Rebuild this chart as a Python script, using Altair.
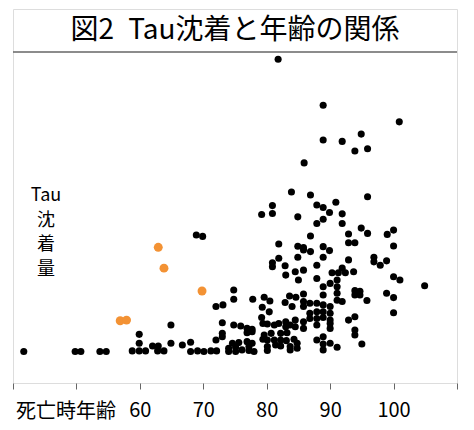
import altair as alt
import pandas as pd

# Black points: age at death (years) and Tau deposition (arbitrary units)
black_age = [41.7, 49.8, 50.7, 53.7, 54.7, 58.8, 59.9, 60.9, 59.9, 59.9,
             62.0, 62.9, 62.8, 63.8, 64.9, 64.9, 66.7, 68.0, 68.0, 69.1,
             70.1, 68.9, 69.9, 71.2, 72.1, 74.0, 75.1, 74.0, 75.1, 76.1,
             77.2, 77.2, 78.0, 80.1, 80.1, 81.4, 82.2, 83.7, 74.6, 75.6,
             76.9, 77.7, 72.0, 73.0, 73.0, 79.4, 80.1, 81.2, 82.2, 83.1,
             84.3, 79.6, 80.7, 82.2, 83.2, 76.9, 77.7, 73.0, 74.8, 75.9,
             76.9, 77.7, 79.2, 79.4, 80.1, 81.2, 81.9, 83.0, 83.0, 83.7,
             84.5, 74.8, 74.8, 72.0, 73.1, 77.8, 79.6, 80.5, 79.3, 80.4,
             83.6, 84.6, 82.9, 84.0, 83.7, 84.8, 83.9, 80.9, 80.9, 79.2,
             84.9, 81.9, 84.9, 85.8, 81.9, 80.9, 84.9, 82.9, 80.9, 83.0,
             81.8, 88.9, 100.9, 94.9, 88.9, 91.9, 93.9, 95.9, 85.9, 86.9,
             95.9, 87.9, 88.9, 90.9, 89.9, 91.9, 88.9, 87.9, 91.9, 94.9,
             100.0, 99.0, 92.9, 95.9, 86.9, 92.9, 93.9, 100.0, 85.8, 86.9,
             88.9, 89.9, 88.9, 92.9, 96.9, 96.9, 97.9, 98.9, 87.9, 91.9,
             104.9, 100.0, 101.0, 98.9, 100.0, 100.0, 95.8, 93.9, 94.7, 93.9,
             94.7, 90.3, 91.3, 92.4, 93.7, 91.1, 91.1, 91.1, 91.1, 90.0,
             88.9, 88.9, 84.5, 85.8, 85.0, 87.9, 85.8, 85.8, 85.8, 86.8,
             87.9, 88.9, 90.0, 91.9, 86.8, 87.9, 88.9, 90.0, 86.8, 87.9,
             88.9, 90.0, 84.5, 85.8, 85.8, 87.9, 90.0, 90.0, 92.9, 93.9,
             93.9, 93.9, 84.8, 87.9, 88.9, 88.9, 90.0, 91.1, 88.9, 95.0]
black_tau = [9.5, 9.5, 9.5, 9.5, 9.5, 9.7, 9.7, 9.7, 12.0, 14.7,
             11.2, 11.2, 9.7, 9.7, 12.0, 17.5, 11.5, 12.3, 9.5, 9.7,
             9.5, 44.7, 44.3, 9.7, 9.7, 10.5, 10.8, 9.5, 9.5, 10.0,
             11.0, 9.8, 9.5, 11.0, 9.8, 11.5, 11.2, 10.0, 12.0, 12.2,
             12.5, 12.0, 13.0, 15.0, 14.0, 13.2, 13.0, 13.0, 13.0, 12.8,
             13.2, 14.5, 15.0, 15.0, 15.2, 15.2, 15.5, 18.2, 17.5, 17.2,
             16.5, 16.2, 19.8, 18.0, 17.8, 17.5, 18.0, 18.5, 17.0, 17.5,
             17.0, 28.1, 25.3, 23.1, 23.6, 25.3, 25.9, 24.8, 22.9, 21.5,
             26.3, 25.9, 24.3, 23.1, 11.0, 12.0, 57.7, 53.6, 51.2, 50.9,
             50.2, 42.0, 41.3, 40.9, 37.7, 36.3, 38.0, 35.4, 35.1, 32.6,
             97.8, 83.9, 78.9, 75.2, 73.4, 73.0, 70.1, 70.8, 66.5, 56.8,
             56.3, 53.8, 53.0, 54.6, 51.5, 51.1, 49.5, 48.2, 48.2, 46.8,
             46.2, 44.9, 45.0, 45.2, 44.4, 42.4, 42.4, 41.4, 40.2, 39.7,
             41.2, 40.0, 38.0, 37.2, 38.0, 36.6, 35.6, 36.9, 35.6, 34.7,
             29.4, 32.1, 31.1, 27.1, 25.8, 21.2, 24.9, 27.9, 27.7, 26.6,
             26.6, 33.3, 33.3, 33.3, 33.6, 31.1, 29.1, 27.1, 25.0, 30.1,
             29.1, 26.6, 33.6, 34.1, 31.1, 31.6, 26.9, 24.6, 23.1, 24.1,
             24.1, 23.6, 23.1, 24.6, 21.1, 21.5, 21.5, 21.1, 19.5, 19.5,
             19.8, 19.0, 19.0, 18.5, 16.5, 17.5, 18.0, 16.5, 19.0, 20.0,
             16.0, 14.5, 10.5, 13.0, 14.0, 11.8, 12.0, 10.8, 10.0, 11.8]

# Orange points
orange_age = [62.9, 63.8, 69.8, 56.9, 57.9]
orange_tau = [41.0, 34.7, 27.8, 18.8, 19.0]

x_ticks = list(range(40, 111, 5))
title_text = "図2\u2002Tau沈着と年齢の関係"
y_label = "Tau\n沈\n着\n量"
x_label = "死亡時年齢"

FONT = "Noto Sans CJK JP"
EDGE = "#666666"

df_black = pd.DataFrame({"age": black_age, "tau": black_tau})
df_orange = pd.DataFrame({"age": orange_age, "tau": orange_tau})

xs = alt.Scale(domain=[40, 110], nice=False, zero=False)
ys = alt.Scale(domain=[0, 113], nice=False, zero=True)

x_enc = alt.X("age:Q", scale=xs,
              axis=alt.Axis(values=x_ticks, title=None, grid=False, domain=False,
                            tickSize=6, tickColor=EDGE, tickWidth=1,
                            labelFontSize=20, labelFont=FONT, labelColor="#000000",
                            labelPadding=11,
                            labelExpr="(datum.value >= 60 && datum.value <= 100 && datum.value % 10 == 0) ? datum.label : ''"))
y_enc = alt.Y("tau:Q", scale=ys, axis=None)

black = alt.Chart(df_black).mark_circle(size=50, color="#000000", opacity=1).encode(x=x_enc, y=y_enc)
orange = alt.Chart(df_orange).mark_circle(size=80, color="#F39234", opacity=1).encode(x="age:Q", y="tau:Q")

sep = alt.Chart(pd.DataFrame({"a": [0]})).mark_rule(color=EDGE, strokeWidth=1.5).encode(
    x=alt.value(0), x2=alt.value(444), y=alt.value(43))

title = alt.Chart(pd.DataFrame({"t": [title_text]})).mark_text(
    font=FONT, fontSize=28, color="#000000", align="center", baseline="middle").encode(
    x=alt.value(222), y=alt.value(22), text="t:N")

ylab = alt.Chart(pd.DataFrame({"t": [y_label]})).mark_text(
    font=FONT, fontSize=18, color="#000000", align="center", baseline="middle",
    lineBreak="\n", lineHeight=24.5).encode(
    x=alt.value(33), y=alt.value(187), text="t:N")

xlab = alt.Chart(pd.DataFrame({"t": [x_label]})).mark_text(
    font=FONT, fontSize=20, color="#000000", align="center", baseline="middle").encode(
    x=alt.value(53), y=alt.value(403), text="t:N")

chart = alt.layer(black, orange, sep, title, ylab, xlab).properties(
    width=444, height=374,
    autosize=alt.AutoSizeParams(type="none"),
    padding={"left": 5, "top": 1, "right": 8, "bottom": 40},
).configure_view(stroke=EDGE, strokeWidth=1.5).configure(background="#ffffff")

chart.save("out.html", embed_options={"renderer": "svg", "actions": False})
